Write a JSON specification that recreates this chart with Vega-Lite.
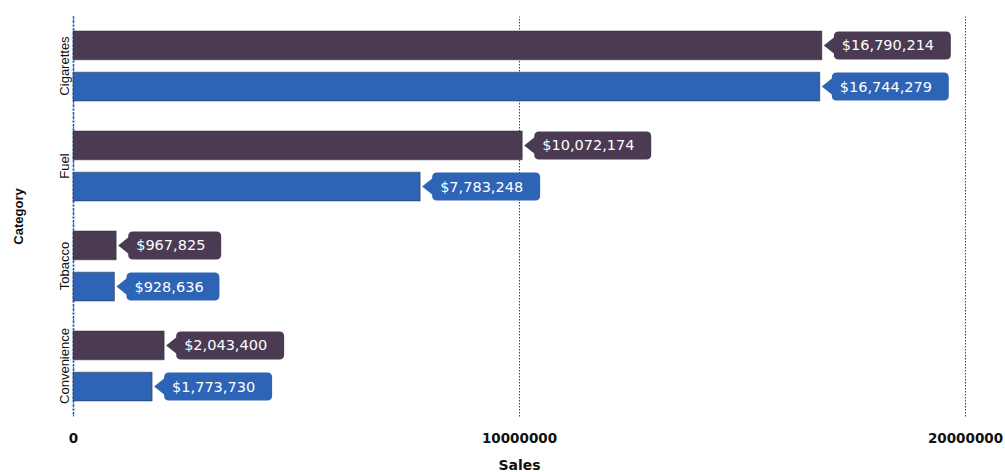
{
  "$schema": "https://vega.github.io/schema/vega-lite/v6.json",
  "autosize": "none",
  "width": 892,
  "height": 400,
  "padding": {"left": 73, "top": 16, "right": 40, "bottom": 56},
  "background": "white",
  "config": {"view": {"stroke": null}},
  "data": {
    "values": [
      {"Category": "Cigarettes", "Series": "Last Year", "Sales": 16790214},
      {"Category": "Cigarettes", "Series": "This Year", "Sales": 16744279},
      {"Category": "Fuel", "Series": "Last Year", "Sales": 10072174},
      {"Category": "Fuel", "Series": "This Year", "Sales": 7783248},
      {"Category": "Tobacco", "Series": "Last Year", "Sales": 967825},
      {"Category": "Tobacco", "Series": "This Year", "Sales": 928636},
      {"Category": "Convenience", "Series": "Last Year", "Sales": 2043400},
      {"Category": "Convenience", "Series": "This Year", "Sales": 1773730}
    ]
  },
  "transform": [
    {"calculate": "format(datum.Sales, '$,')", "as": "lbl"},
    {"calculate": "length(datum.lbl)", "as": "n"}
  ],
  "encoding": {
    "y": {
      "field": "Category",
      "type": "nominal",
      "sort": ["Cigarettes", "Fuel", "Tobacco", "Convenience"],
      "scale": {"paddingInner": 0.3, "paddingOuter": 0.15},
      "axis": {
        "title": "Category",
        "titleFont": "Liberation Sans",
        "titleFontSize": 13,
        "titleFontWeight": "bold",
        "titleColor": "#111",
        "titlePadding": 33,
        "labelAngle": -90,
        "labelAlign": "center",
        "labelBaseline": "bottom",
        "labelFont": "Liberation Sans",
        "labelFontSize": 13,
        "labelColor": "#111",
        "labelPadding": 2,
        "ticks": false,
        "domain": true,
        "domainColor": "#2a6fc0",
        "domainDash": [2, 2],
        "domainWidth": 2,
        "grid": false
      }
    },
    "yOffset": {
      "field": "Series",
      "type": "nominal",
      "sort": ["Last Year", "This Year"],
      "scale": {"paddingInner": 0.3, "paddingOuter": 0}
    },
    "x": {
      "field": "Sales",
      "type": "quantitative",
      "scale": {"domain": [0, 20000000], "nice": false},
      "axis": {
        "title": "Sales",
        "titleFont": "DejaVu Sans",
        "titleFontSize": 14,
        "titleFontWeight": "bold",
        "titleColor": "#111",
        "titlePadding": 14,
        "values": [0, 10000000, 20000000],
        "format": "d",
        "labelFont": "DejaVu Sans",
        "labelFontSize": 13.5,
        "labelFontWeight": "bold",
        "labelColor": "#111",
        "labelPadding": 15,
        "labelFlush": false,
        "ticks": false,
        "domain": false,
        "grid": true,
        "gridColor": "#3b4260",
        "gridDash": [1.5, 1.5],
        "gridWidth": 1
      }
    },
    "color": {
      "field": "Series",
      "type": "nominal",
      "scale": {"domain": ["Last Year", "This Year"], "range": ["#4a3b53", "#2d64b6"]},
      "legend": null
    }
  },
  "layer": [
    {
      "mark": {"type": "bar", "stroke": "#2a2030", "strokeWidth": 0.8, "strokeOpacity": 0.6}
    },
    {
      "mark": {"type": "point", "filled": true, "opacity": 1, "size": 4, "strokeWidth": 0},
      "encoding": {
        "shape": {
          "field": "n",
          "type": "nominal",
          "scale": {
            "domain": [8, 10, 11],
            "range": [
              "M2,0 L12,-8 L12,-9 Q12,-14 17,-14 L100,-14 Q105,-14 105,-9 L105,9 Q105,14 100,14 L17,14 Q12,14 12,9 L12,8 Z",
              "M2,0 L12,-8 L12,-9 Q12,-14 17,-14 L115,-14 Q120,-14 120,-9 L120,9 Q120,14 115,14 L17,14 Q12,14 12,9 L12,8 Z",
              "M2,0 L12,-8 L12,-9 Q12,-14 17,-14 L124,-14 Q129,-14 129,-9 L129,9 Q129,14 124,14 L17,14 Q12,14 12,9 L12,8 Z"
            ]
          },
          "legend": null
        }
      }
    },
    {
      "mark": {"type": "text", "align": "left", "baseline": "middle", "dx": 20, "dy": 1, "font": "DejaVu Sans", "fontSize": 14.5, "color": "white"},
      "encoding": {
        "text": {"field": "lbl"},
        "color": {"value": "white"}
      }
    }
  ]
}
